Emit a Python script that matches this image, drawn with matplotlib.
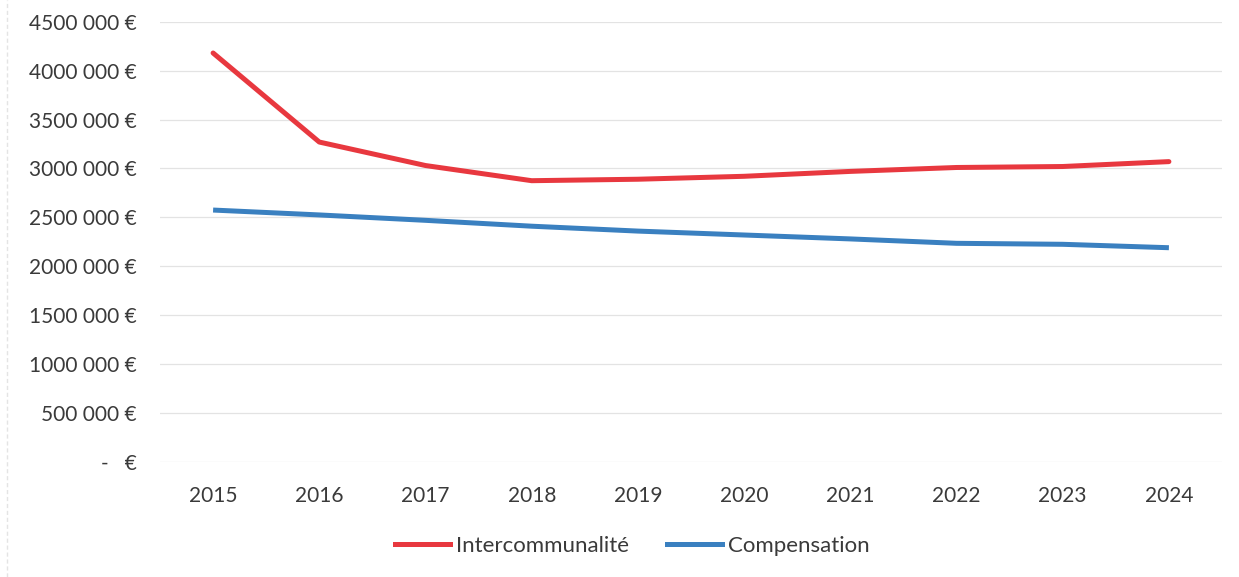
import matplotlib
matplotlib.use("Agg")
import matplotlib.pyplot as plt
from matplotlib.lines import Line2D
from matplotlib.ticker import FuncFormatter, MultipleLocator

years = ["2015", "2016", "2017", "2018", "2019", "2020", "2021", "2022", "2023", "2024"]
intercommunalite = [4180000, 3270000, 3030000, 2875000, 2890000, 2920000, 2970000, 3010000, 3020000, 3070000]
compensation = [2575000, 2525000, 2470000, 2410000, 2360000, 2320000, 2280000, 2235000, 2225000, 2190000]

RED = "#e8383f"
BLUE = "#3a80c0"
TEXT = "#3a3a3a"

plt.rcParams["font.family"] = ["Lato", "DejaVu Sans"]

fig = plt.figure(figsize=(12.39, 5.77), dpi=100)
ax = fig.add_axes([160 / 1239, 1 - 462 / 577, (1222 - 160) / 1239, (462 - 21.7) / 577])

x = list(range(len(years)))
ax.plot(x, intercommunalite, color=RED, lw=3.6, solid_capstyle="round", solid_joinstyle="round", zorder=3)
ax.plot(x, compensation, color=BLUE, lw=3.6, solid_capstyle="butt", solid_joinstyle="round", zorder=3)

ax.set_xlim(-0.5, len(years) - 0.5)
ax.set_ylim(0, 4500000)
ax.yaxis.set_major_locator(MultipleLocator(500000))


def euro(v, pos):
    v = int(round(v))
    if v == 0:
        return "-   €"
    thousands = v // 1000
    return f"{thousands} 000 €"


ax.yaxis.set_major_formatter(FuncFormatter(euro))
ax.set_xticks(x)
ax.set_xticklabels(years)

ax.grid(axis="y", color="#e3e3e3", lw=0.9)
ax.set_axisbelow(True)
for s in ax.spines.values():
    s.set_visible(False)
ax.tick_params(axis="both", length=0, labelsize=15, labelcolor=TEXT)
ax.tick_params(axis="y", pad=16.5)
ax.tick_params(axis="x", pad=17)

handles = [Line2D([], [], color=RED, lw=3.6), Line2D([], [], color=BLUE, lw=3.6)]
fig.legend(handles, ["Intercommunalité", "Compensation"], loc="center",
           bbox_to_anchor=(632 / 1239, 1 - 546 / 577), ncol=2, frameon=False,
           fontsize=16, labelcolor=TEXT, handlelength=2.5, handletextpad=0.25,
           columnspacing=1.7)

# faint left border of the chart area
fig.add_artist(Line2D([7 / 1239, 7 / 1239], [0, 1], color="#e4e4e4", lw=1, ls=(0, (3, 2))))

fig.savefig("out.png", dpi=100)
